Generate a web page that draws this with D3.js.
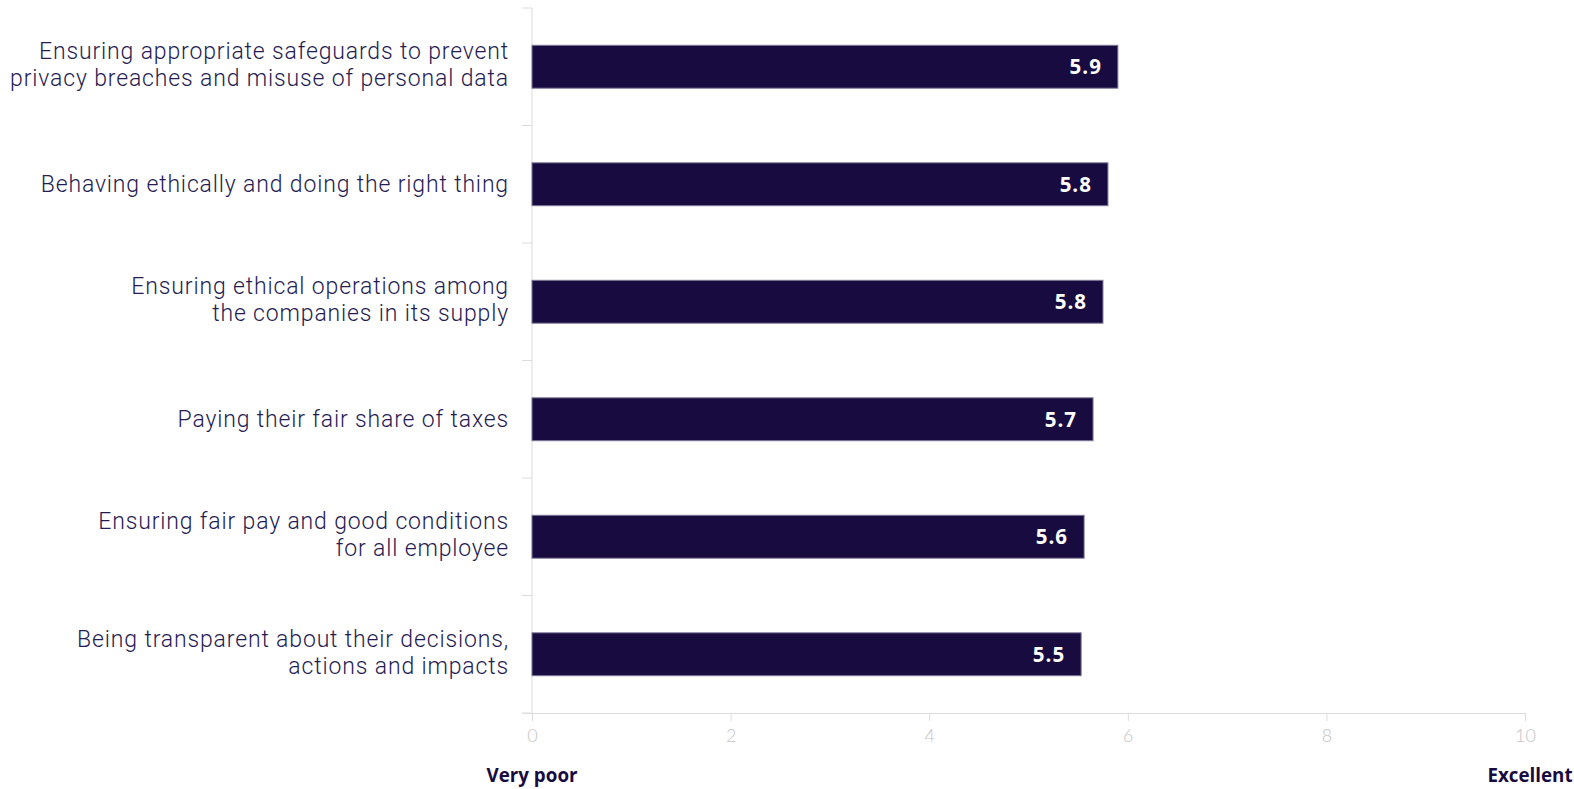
<!DOCTYPE html>
<html>
<head>
<meta charset="utf-8">
<script src="https://cdn.jsdelivr.net/npm/d3@7"></script>
<style>
  html, body { margin: 0; padding: 0; background: #ffffff; }
  svg { display: block; }
  text { font-family: "Open Sans", Lato, sans-serif; }
</style>
</head>
<body>
<svg id="chart" width="1574" height="789"></svg>
<script>
// Ratings of company behaviour, 0 (very poor) to 10 (excellent)
const categories = [
  ["Ensuring appropriate safeguards to prevent", "privacy breaches and misuse of personal data"],
  ["Behaving ethically and doing the right thing"],
  ["Ensuring ethical operations among", "the companies in its supply"],
  ["Paying their fair share of taxes"],
  ["Ensuring fair pay and good conditions", "for all employee"],
  ["Being transparent about their decisions,", "actions and impacts"]
];
const scores = [5.9, 5.8, 5.75, 5.65, 5.56, 5.53];
const xTicks = [0, 2, 4, 6, 8, 10];
const scaleEnds = ["Very poor", "Excellent"];

const navy = "#180b3f";
const svg = d3.select("#chart");
const margin = { top: 8, right: 49, bottom: 76, left: 532 };
const width = 1574 - margin.left - margin.right;
const height = 789 - margin.top - margin.bottom;

const g = svg.append("g").attr("transform", `translate(${margin.left},${margin.top})`);

const keys = categories.map((c, i) => i);
const y = d3.scaleBand().domain(keys).range([0, height]).paddingInner(0.635).paddingOuter(0.3175);
const yBoundaries = d3.scaleBand().domain(keys).range([0, height]);
const x = d3.scaleLinear().domain([0, 10]).range([0, width]);

// category separators on the left axis
g.append("line")
  .attr("x1", 0).attr("x2", 0).attr("y1", 0).attr("y2", height)
  .attr("stroke", "#dcdcdc").attr("stroke-width", 1);
g.selectAll(".ysep")
  .data(keys.concat([keys.length]))
  .join("line")
  .attr("class", "ysep")
  .attr("x1", -10).attr("x2", 0)
  .attr("y1", d => d < keys.length ? yBoundaries(d) : height)
  .attr("y2", d => d < keys.length ? yBoundaries(d) : height)
  .attr("stroke", "#dcdcdc").attr("stroke-width", 1);

// bottom axis
const xAxis = g.append("g")
  .attr("transform", `translate(0,${height})`)
  .call(d3.axisBottom(x).tickValues(xTicks).tickSize(8).tickPadding(8).tickFormat(d3.format("d")));
xAxis.select(".domain").attr("stroke", "#dcdcdc").attr("d", `M${-10},0.5H${width + 0.5}`);
xAxis.selectAll(".tick line").attr("stroke", "#dcdcdc");
xAxis.selectAll(".tick text")
  .attr("fill", "#c4c4c4")
  .attr("font-size", 18)
  .style("font-family", "Lato, sans-serif")
  .style("font-weight", 300);

// bars
g.selectAll(".bar")
  .data(scores)
  .join("rect")
  .attr("class", "bar")
  .attr("x", 0)
  .attr("y", (d, i) => y(i))
  .attr("width", d => x(d))
  .attr("height", y.bandwidth())
  .attr("fill", navy)
  .attr("stroke", "#7d7898")
  .attr("stroke-width", 1);

// value labels inside bar ends
const fmt = d3.format(".1f");
g.selectAll(".val")
  .data(scores)
  .join("text")
  .attr("class", "val")
  .attr("x", d => x(d) - 16)
  .attr("y", (d, i) => y(i) + y.bandwidth() / 2)
  .attr("dy", "0.36em")
  .attr("text-anchor", "end")
  .attr("fill", "#ffffff")
  .attr("font-size", 20.5)
  .attr("font-weight", 700)
  .attr("letter-spacing", 1)
  .text(d => fmt(d));

// category labels, one text per line, block sits slightly above the bar centre
const lineH = 27;
const catLines = categories.flatMap((lines, i) =>
  lines.map((t, j) => ({
    t, i,
    off: (j - (lines.length - 1) / 2) * lineH - (lines.length > 1 ? 2 : 0)
  })));
g.selectAll(".cat")
  .data(catLines)
  .join("text")
  .attr("class", "cat")
  .attr("text-anchor", "end")
  .attr("fill", "#261c52")
  .attr("font-size", 23)
  .attr("font-weight", 300)
  .attr("letter-spacing", 0.85)
  .style("font-family", "Roboto, sans-serif")
  .attr("x", -23)
  .attr("y", d => y(d.i) + y.bandwidth() / 2 + d.off)
  .attr("dy", "0.35em")
  .text(d => d.t);

// scale end captions
g.selectAll(".end")
  .data(scaleEnds)
  .join("text")
  .attr("class", "end")
  .attr("x", (d, i) => x(i * 10) + (i ? 5 : 0))
  .attr("y", height + 69)
  .attr("text-anchor", "middle")
  .attr("fill", navy)
  .attr("font-size", 18.8)
  .attr("font-weight", 700)
  .text(d => d);
</script>
</body>
</html>
